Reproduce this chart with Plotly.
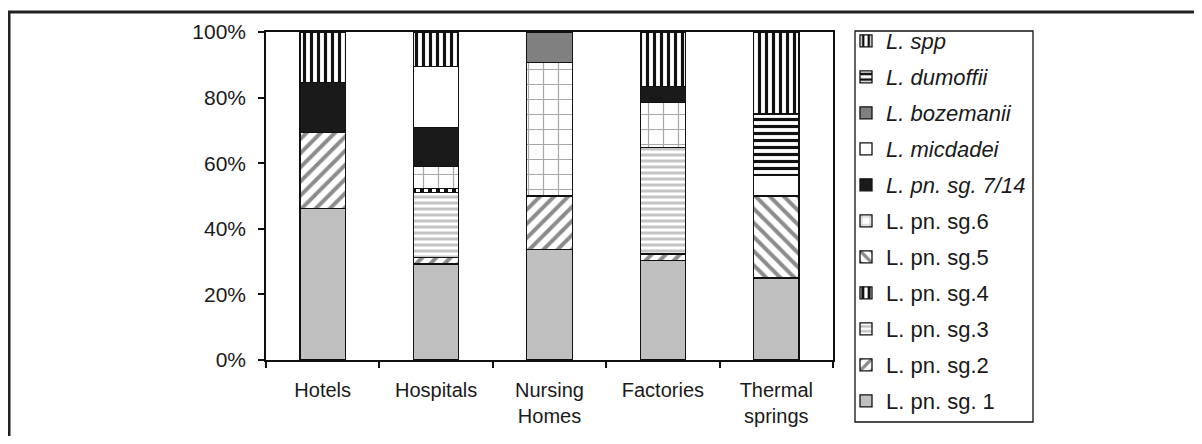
import plotly.graph_objects as go

categories = ["Hotels", "Hospitals", "Nursing<br>Homes", "Factories", "Thermal<br>springs"]

sg1 = [46.2, 29.3, 33.7, 30.3, 25.0]
sg2 = [23.1, 2.0, 16.3, 2.0, None]
sg3 = [None, 19.7, None, 32.5, None]
sg4 = [None, 1.3, None, None, None]
sg5 = [None, None, None, None, 25.0]
sg6 = [None, 6.8, 40.6, 13.7, None]
sg7_14 = [15.4, 11.8, None, 4.8, None]
micdadei = [None, 18.5, None, None, 6.25]
bozemanii = [None, None, 9.4, None, None]
dumoffii = [None, None, None, None, 18.75]
spp = [15.3, 10.6, None, 16.7, 25.0]

series = [
    ("L. pn. sg. 1", sg1),
    ("L. pn. sg.2", sg2),
    ("L. pn. sg.3", sg3),
    ("L. pn. sg.4", sg4),
    ("L. pn. sg.5", sg5),
    ("L. pn. sg.6", sg6),
    ("<i>L. pn. sg. 7/14</i>", sg7_14),
    ("<i>L. micdadei</i>", micdadei),
    ("<i>L. bozemanii</i>", bozemanii),
    ("<i>L. dumoffii</i>", dumoffii),
    ("<i>L. spp</i>", spp),
]

styles = [
    dict(color="#c0c0c0"),
    dict(color="white", pattern=dict(shape="/", fgcolor="#8c8c8c", bgcolor="white", size=10, solidity=0.4)),
    dict(color="white", pattern=dict(shape="-", fgcolor="#c4c4c4", bgcolor="white", size=6, solidity=0.5)),
    dict(color="white", pattern=dict(shape="|", fgcolor="#111111", bgcolor="white", size=8, solidity=0.5)),
    dict(color="white", pattern=dict(shape="\\", fgcolor="#8c8c8c", bgcolor="white", size=10, solidity=0.4)),
    dict(color="white", pattern=dict(shape="+", fgcolor="#a8a8a8", bgcolor="white", size=15, solidity=0.15)),
    dict(color="#1a1a1a"),
    dict(color="white"),
    dict(color="#808080"),
    dict(color="white", pattern=dict(shape="-", fgcolor="#111111", bgcolor="white", size=7, solidity=0.45)),
    dict(color="white", pattern=dict(shape="|", fgcolor="#111111", bgcolor="white", size=7, solidity=0.45)),
]

n = len(series)
fig = go.Figure()
for i, ((name, vals), st) in enumerate(zip(series, styles)):
    marker = dict(color=st["color"], line=dict(color="#111111", width=1.3))
    if "pattern" in st:
        marker["pattern"] = dict(fillmode="replace", **st["pattern"])
    fig.add_trace(go.Bar(x=categories, y=vals, name=name, marker=marker, width=0.4,
                         legendgroup="g%02d" % (n - i), legendrank=n - i))

# page is offset by the default 8px body margin
OFF = 8
W, H = 1202 - 2 * OFF, 444 - 2 * OFF
# target page-pixel positions
PL, PR, PT, PB = 266, 833, 32, 360
L, T = PL - OFF, PT - OFF
R = W - (PR - OFF)
B = H - (PB - OFF)
pw, ph = W - L - R, H - T - B

def px_x(p):
    return (p - OFF - L) / pw

def px_y(p):
    return (H - B - (p - OFF)) / ph

fig.update_layout(
    width=W, height=H,
    margin=dict(l=L, r=R, t=T, b=B, pad=0, autoexpand=False),
    barmode="stack",
    plot_bgcolor="white", paper_bgcolor="white",
    font=dict(family="Liberation Sans, Arial, sans-serif", size=20, color="#1a1a1a"),
    showlegend=True,
    legend=dict(
        traceorder="grouped",
        tracegroupgap=4.4,
        x=px_x(846), xanchor="left", y=px_y(20), yanchor="top",
        borderwidth=0, bgcolor="rgba(0,0,0,0)",
        font=dict(size=22),
        itemwidth=30,
        maxheight=1000,
    ),
    xaxis=dict(
        showline=True, linecolor="#111111", linewidth=1.5, mirror=True,
        ticks="outside", tickson="boundaries", ticklen=6, tickcolor="#111111", tickwidth=1.5,
        showgrid=False, ticklabelstandoff=11, tickfont=dict(size=20), automargin=False,
    ),
    yaxis=dict(
        range=[0, 100], dtick=20, ticksuffix="%",
        showline=True, linecolor="#111111", linewidth=1.5, mirror=True,
        ticks="outside", ticklen=6, tickcolor="#111111", tickwidth=1.5,
        showgrid=False, zeroline=False, ticklabelstandoff=8, tickfont=dict(size=21), automargin=False,
    ),
    shapes=[
        dict(type="line", xref="paper", yref="paper", x0=px_x(9), x1=px_x(9), y0=px_y(11), y1=px_y(460),
             line=dict(color="#222222", width=3)),
        dict(type="line", xref="paper", yref="paper", x0=px_x(8), x1=px_x(1220), y0=px_y(12), y1=px_y(12),
             line=dict(color="#222222", width=3)),
        dict(type="rect", xref="paper", yref="paper", x0=px_x(855), x1=px_x(1033), y0=px_y(31), y1=px_y(422),
             line=dict(color="#111111", width=1.3), layer="below"),
    ],
)

fig.write_html("out.html")
